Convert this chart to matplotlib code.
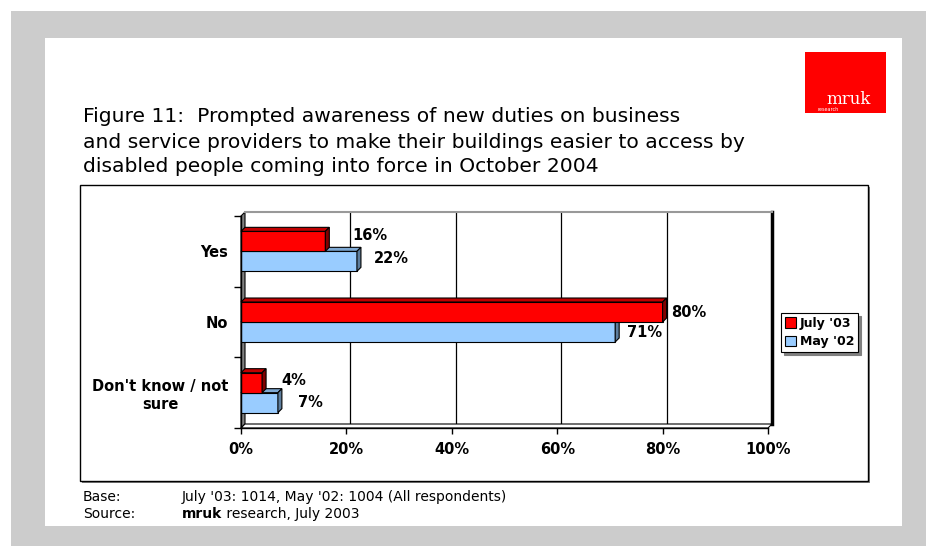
"""
Figure 11 - prompted awareness of new access duties (mruk research)
"""

import matplotlib
matplotlib.use('Agg')
import matplotlib.pyplot as plt
from matplotlib.patches import Rectangle, Polygon, Patch

plt.rcParams['font.family'] = ['DejaVu Sans']

# survey results, % of respondents
categories = ["Yes", "No", "Don't know / not\nsure"]
july_03 = [16, 80, 4]
may_02 = [22, 71, 7]
series_names = ["July '03", "May '02"]
xtick_values = [0, 20, 40, 60, 80, 100]
xtick_labels = ['0%', '20%', '40%', '60%', '80%', '100%']

title_lines = ["Figure 11:  Prompted awareness of new duties on business",
               "and service providers to make their buildings easier to access by",
               "disabled people coming into force in October 2004"]

W, H = 926, 546
RED, RED_TOP, RED_SIDE = '#ff0000', '#c00000', '#800000'
BLUE, BLUE_TOP, BLUE_SIDE = '#99ccff', '#7ea8d2', '#5d7d9d'

# label nudges in pixels (July, May) per category
red_offsets = [(27, 6), (9, 0), (19, 2)]
blue_offsets = [(17, 3), (12, -1), (20, 0)]


def frac(x0, y0, x1, y1):
    # pixel box (top-left origin) -> figure fraction rect
    return [x0 / W, 1 - y1 / H, (x1 - x0) / W, (y1 - y0) / H]


def setup_fig():
    fig = plt.figure(figsize=(W / 100, H / 100), dpi=100)
    bg = fig.add_axes([0, 0, 1, 1])
    bg.set_xlim(0, W)
    bg.set_ylim(H, 0)
    bg.axis('off')

    bg.add_patch(Rectangle((11, 11), W - 11, H - 11, facecolor='#cccccc', edgecolor='none'))
    bg.add_patch(Rectangle((45, 38), 857, 488, facecolor='white', edgecolor='none'))

    # chart frame with a thin drop shadow
    bg.add_patch(Rectangle((82, 187), 788, 296, facecolor='#808080', edgecolor='none'))
    bg.add_patch(Rectangle((80, 185), 788, 296, facecolor='white', edgecolor='black', lw=1))

    # 3d left wall and floor
    bg.add_patch(Polygon([(241, 216), (245, 212), (245, 424), (241, 428)],
                         closed=True, facecolor='#808080', edgecolor='black', lw=0.8))
    bg.add_patch(Polygon([(241, 428), (245, 424), (772, 424), (768, 428)],
                         closed=True, facecolor='white', edgecolor='black', lw=0.8))

    # logo
    bg.add_patch(Rectangle((805, 52), 81, 61, facecolor='#ff0000', edgecolor='none'))
    bg.text(849, 99, 'mruk', color='white', fontsize=12, family='DejaVu Serif',
            ha='center', va='center')
    bg.text(818, 109.5, 'research', color='white', fontsize=3.5, ha='left', va='center')

    for i, line in enumerate(title_lines):
        bg.text(83, 117 + i * 25, line, fontsize=14.6, ha='left', va='center', color='black')

    return fig, bg


def plot_bars(fig):
    back = fig.add_axes(frac(245, 212, 772, 424))
    back.set_facecolor('none')
    back.set_xlim(0, 100)
    back.set_xticks(xtick_values[1:-1])
    back.set_yticks([])
    back.tick_params(length=0, labelbottom=False)
    back.grid(axis='x', color='black', lw=0.9)
    back.spines['left'].set_visible(False)
    back.spines['bottom'].set_visible(False)
    back.spines['top'].set_color('#999999')
    back.spines['top'].set_linewidth(1.5)
    back.spines['right'].set_linewidth(2.5)

    ax = fig.add_axes(frac(241, 216, 768, 428))
    ax.set_facecolor('none')
    ax.set_xlim(0, 100)
    ax.set_ylim(-0.5, 2.5)
    for s in ['top', 'right']:
        ax.spines[s].set_visible(False)
    ax.spines['left'].set_linewidth(1)
    ax.spines['bottom'].set_linewidth(1)

    h = 20 / 70.7
    dx = 4 / 527 * 100
    dy = 4 / 70.7
    ypos = [2, 1, 0]

    def bar3d(y0, v, front, top, side):
        ax.barh(y0, v, height=h, align='edge', color=front, edgecolor='black', lw=0.8)
        y1 = y0 + h
        ax.add_patch(Polygon([(0, y1), (v, y1), (v + dx, y1 + dy), (dx, y1 + dy)],
                             closed=True, facecolor=top, edgecolor='black', lw=0.8, clip_on=False))
        ax.add_patch(Polygon([(v, y0), (v + dx, y0 + dy), (v + dx, y1 + dy), (v, y1)],
                             closed=True, facecolor=side, edgecolor='black', lw=0.8, clip_on=False))

    lbl = dict(fontsize=10.5, fontweight='bold', ha='left', va='center',
               textcoords='offset pixels', annotation_clip=False)
    for i, y in enumerate(ypos):
        bar3d(y - h, may_02[i], BLUE, BLUE_TOP, BLUE_SIDE)
        bar3d(y, july_03[i], RED, RED_TOP, RED_SIDE)
        ax.annotate(f'{july_03[i]}%', (july_03[i], y + h / 2), xytext=red_offsets[i], **lbl)
        ax.annotate(f'{may_02[i]}%', (may_02[i], y - h / 2), xytext=blue_offsets[i], **lbl)

    ax.set_xticks(xtick_values)
    ax.set_xticklabels(xtick_labels, fontsize=10.5, fontweight='bold')
    ax.tick_params(axis='x', direction='out', length=4, width=1, pad=6)

    ax.set_yticks([-0.5, 0.5, 1.5, 2.5])
    ax.set_yticklabels([])
    ax.tick_params(axis='y', which='major', direction='out', length=5, width=1)
    ax.set_yticks(ypos, minor=True)
    ax.set_yticklabels(categories, minor=True, fontsize=10.5, fontweight='bold',
                       multialignment='center')
    ax.tick_params(axis='y', which='minor', length=0, pad=9)

    handles = [Patch(facecolor=RED, edgecolor='black', lw=0.8),
               Patch(facecolor=BLUE, edgecolor='black', lw=0.8)]
    leg = fig.legend(handles, series_names, loc='upper left',
                     bbox_to_anchor=(781 / W, 1 - 313 / H),
                     prop={'weight': 'bold', 'size': 9}, frameon=True, fancybox=False,
                     shadow={'color': '#808080', 'alpha': 1, 'ox': 2, 'oy': -2},
                     borderpad=0.3, handlelength=0.9, handleheight=0.9,
                     handletextpad=0.3, labelspacing=0.45, borderaxespad=0)
    leg.get_frame().set_edgecolor('black')
    leg.get_frame().set_linewidth(0.8)
    return ax


def plot_footer(fig, bg):
    fs = 10
    bg.text(83, 497, 'Base:', fontsize=fs, ha='left', va='center')
    bg.text(182, 497, "July '03: 1014, May '02: 1004 (All respondents)",
            fontsize=fs, ha='left', va='center')
    bg.text(83, 514, 'Source:', fontsize=fs, ha='left', va='center')
    brand = bg.text(182, 514, 'mruk', fontsize=fs, fontweight='bold', ha='left', va='center')
    r = fig.canvas.get_renderer()
    bb = brand.get_window_extent(renderer=r)
    x_end = bg.transData.inverted().transform((bb.x1, bb.y0))[0]
    bg.text(x_end, 514, ' research, July 2003', fontsize=fs, ha='left', va='center')


if __name__ == "__main__":
    fig, bg = setup_fig()
    plot_bars(fig)
    plot_footer(fig, bg)
    fig.savefig('out.png', dpi=100, facecolor='white')
